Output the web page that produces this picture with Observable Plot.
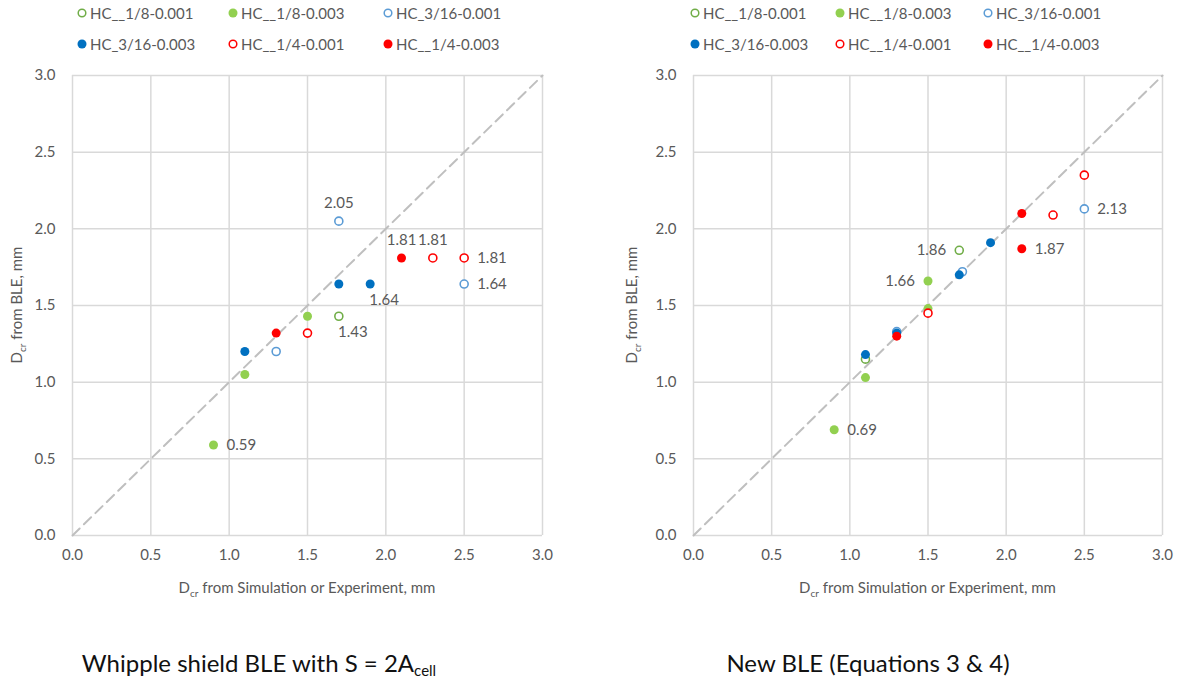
<!DOCTYPE html>
<html>
<head>
<meta charset="utf-8">
<script src="https://cdn.jsdelivr.net/npm/d3@7"></script>
<script src="https://cdn.jsdelivr.net/npm/@observablehq/plot@0.6"></script>
<style>
  html, body { margin: 0; padding: 0; background: #fff; }
  #root { position: relative; width: 1180px; height: 690px; overflow: hidden; font-family: Lato, "Open Sans", sans-serif; }
  .legend-item { position: absolute; font-size: 15px; color: #595959; white-space: nowrap; line-height: 18px; }
  .legend-item svg { position: absolute; left: -13px; top: 4px; }
  .caption { position: absolute; top: 648px; font-size: 24px; color: #111; white-space: nowrap; transform: translateX(-50%); }
  .caption sub { font-size: 15px; vertical-align: -4px; }
</style>
</head>
<body>
<div id="root"></div>
<script>
// ---------- data ----------
const seriesNames = ["HC__1/8-0.001", "HC__1/8-0.003", "HC_3/16-0.001", "HC_3/16-0.003", "HC__1/4-0.001", "HC__1/4-0.003"];
const seriesColors = ["#70ad47", "#92d050", "#5b9bd5", "#0070c0", "#ff0000", "#ff0000"];
const seriesFilled = [false, true, false, true, false, true];
const tickValues = [0, 0.5, 1.0, 1.5, 2.0, 2.5, 3.0];
const diagonal = [0, 3];

// Left panel (Whipple shield BLE with S = 2Acell)
const leftX = [
  [1.7],
  [0.9, 1.1, 1.5],
  [1.3, 1.7, 2.5],
  [1.1, 1.7, 1.9],
  [1.5, 2.3, 2.5],
  [1.3, 2.1]
];
const leftY = [
  [1.43],
  [0.59, 1.05, 1.43],
  [1.20, 2.05, 1.64],
  [1.20, 1.64, 1.64],
  [1.32, 1.81, 1.81],
  [1.32, 1.81]
];
const leftLabelX = [1.7, 2.1, 2.3, 2.5, 2.5, 1.9, 1.7, 0.9];
const leftLabelY = [2.05, 1.81, 1.81, 1.81, 1.64, 1.64, 1.43, 0.59];
const leftLabelPos = ["above", "above", "above", "right", "right", "below", "below", "right"];

// Right panel (New BLE)
const rightX = [
  [1.1, 1.7],
  [0.9, 1.1, 1.5, 1.5],
  [1.3, 1.72, 2.5],
  [1.1, 1.3, 1.7, 1.9],
  [1.5, 2.3, 2.5],
  [1.3, 2.1, 2.1]
];
const rightY = [
  [1.15, 1.86],
  [0.69, 1.03, 1.48, 1.66],
  [1.33, 1.72, 2.13],
  [1.18, 1.32, 1.70, 1.91],
  [1.45, 2.09, 2.35],
  [1.30, 2.10, 1.87]
];
const rightLabelX = [2.5, 2.1, 1.7, 1.5, 0.9];
const rightLabelY = [2.13, 1.87, 1.86, 1.66, 0.69];
const rightLabelPos = ["right", "right", "left", "left", "right"];

const xTitle = "from Simulation or Experiment, mm";
const yTitle = "from BLE, mm";

// ---------- drawing ----------
const root = document.getElementById("root");
const fmt = d3.format(".1f");
const gridColor = "#d9d9d9";
const textColor = "#595959";

function panel(xs, ys, lx, ly, lpos, left, width, marginRight) {
  const points = [];
  seriesNames.forEach((name, i) => {
    xs[i].forEach((x, j) => points.push({series: i, x, y: ys[i][j]}));
  });
  const labels = lx.map((x, i) => ({x, y: ly[i], pos: lpos[i], text: ly[i].toFixed(2)}));
  const offsets = {
    above: {dx: 0, dy: -18, textAnchor: "middle"},
    right: {dx: 13, dy: 0, textAnchor: "start"},
    below: {dx: 14, dy: 16, textAnchor: "middle"},
    left: {dx: -13, dy: 0, textAnchor: "end"}
  };
  const marks = [
    Plot.ruleX(tickValues, {x: d => d, stroke: gridColor, strokeWidth: 1.5}),
    Plot.ruleY(tickValues, {y: d => d, stroke: gridColor, strokeWidth: 1.5}),
    Plot.line(diagonal, {x: d => d, y: d => d, stroke: "#bfbfbf", strokeWidth: 2, strokeDasharray: "10,6"}),
  ];
  seriesNames.forEach((name, i) => {
    const data = points.filter(p => p.series === i);
    marks.push(Plot.dot(data, seriesFilled[i]
      ? {x: "x", y: "y", r: 4.5, fill: seriesColors[i], stroke: "none"}
      : {x: "x", y: "y", r: 4, fill: "white", stroke: seriesColors[i], strokeWidth: 1.6}));
  });
  Object.keys(offsets).forEach(k => {
    const o = offsets[k];
    marks.push(Plot.text(labels.filter(l => l.pos === k), {
      x: "x", y: "y", text: "text", dx: o.dx, dy: o.dy, textAnchor: o.textAnchor,
      fill: textColor, fontSize: 15
    }));
  });
  const svg = Plot.plot({
    width, height: 545,
    marginLeft: 72, marginRight, marginTop: 15, marginBottom: 70,
    style: {fontFamily: "Lato, 'Open Sans', sans-serif", background: "white", color: textColor},
    x: {domain: [0, 3], label: null},
    y: {domain: [0, 3], label: null},
    marks: [
      ...marks,
      Plot.axisX({ticks: tickValues, tickFormat: fmt, tickSize: 0, tickPadding: 14, label: null, fontSize: 15, fill: textColor}),
      Plot.axisY({ticks: tickValues, tickFormat: fmt, tickSize: 0, tickPadding: 17, label: null, fontSize: 15, fill: textColor})
    ]
  });
  svg.style.position = "absolute";
  svg.style.left = left + "px";
  svg.style.top = "60px";
  const s = d3.select(svg);
  const plotCenterX = 72 + (width - 72 - marginRight) / 2;
  const xt = s.append("text")
    .attr("x", plotCenterX).attr("y", 533)
    .attr("text-anchor", "middle").attr("fill", textColor)
    .style("font-size", "15px").style("font-family", "Lato, sans-serif");
  xt.append("tspan").text("D");
  xt.append("tspan").attr("dy", 4).style("font-size", "10px").text("cr");
  xt.append("tspan").attr("dy", -4).text(" " + xTitle);
  const yt = s.append("text")
    .attr("transform", `translate(${left === 0 ? 22 : 16},245) rotate(-90)`)
    .attr("text-anchor", "middle").attr("fill", textColor)
    .style("font-size", "15px").style("font-family", "Lato, sans-serif");
  yt.append("tspan").text("D");
  yt.append("tspan").attr("dy", 4).style("font-size", "10px").text("cr");
  yt.append("tspan").attr("dy", -4).text(" " + yTitle);
  root.appendChild(svg);
}

panel(leftX, leftY, leftLabelX, leftLabelY, leftLabelPos, 0, 562, 20);
panel(rightX, rightY, rightLabelX, rightLabelY, rightLabelPos, 621, 559, 18);

// legends
function legend(markerXs) {
  seriesNames.forEach((name, i) => {
    const row = Math.floor(i / 3), col = i % 3;
    const div = document.createElement("div");
    div.className = "legend-item";
    div.style.left = (markerXs[col] + 9) + "px";
    div.style.top = (row === 0 ? 4 : 35) + "px";
    const c = seriesColors[i];
    div.innerHTML = `<svg width="10" height="10">${seriesFilled[i]
      ? `<circle cx="5" cy="5" r="4.5" fill="${c}"/>`
      : `<circle cx="5" cy="5" r="3.8" fill="white" stroke="${c}" stroke-width="1.5"/>`}</svg>`;
    div.appendChild(document.createTextNode(name));
    root.appendChild(div);
  });
}
legend([81, 232, 387]);
legend([694, 839, 987]);

// captions
const cap1 = document.createElement("div");
cap1.className = "caption";
cap1.style.left = "259px";
cap1.innerHTML = "Whipple shield BLE with S = 2A<sub>cell</sub>";
root.appendChild(cap1);
const cap2 = document.createElement("div");
cap2.className = "caption";
cap2.style.left = "868px";
cap2.textContent = "New BLE (Equations 3 & 4)";
root.appendChild(cap2);
</script>
</body>
</html>
